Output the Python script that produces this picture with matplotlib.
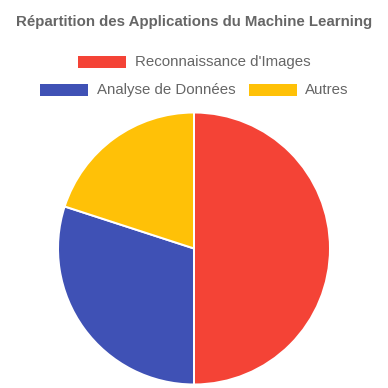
import matplotlib
matplotlib.use("Agg")
import matplotlib.pyplot as plt
from matplotlib.patches import Rectangle

categories = ["Reconnaissance d'Images", "Analyse de Données", "Autres"]
values = [50, 30, 20]
colors = ["#F44336", "#3F51B5", "#FFC107"]
title = "Répartition des Applications du Machine Learning"

W = H = 388
DPI = 100
plt.rcParams['font.family'] = ['Liberation Sans', 'DejaVu Sans']
fig = plt.figure(figsize=(W / DPI, H / DPI), dpi=DPI)
fig.patch.set_facecolor("white")

def fx(x):
    return x / W

def fy(y):
    return 1 - y / H

def pt(px):
    return px * 72 / DPI

# Pie
cx, cy, r = 194, 248.5, 136
ax = fig.add_axes([fx(cx - r), fy(cy + r), 2 * r / W, 2 * r / H])
ax.pie(values, colors=colors, startangle=90, counterclock=False, radius=1,
       wedgeprops=dict(edgecolor="white", linewidth=pt(2)))
ax.set_xlim(-1, 1)
ax.set_ylim(-1, 1)
ax.set_aspect("equal")
ax.axis("off")

# Title
fig.text(fx(194), fy(22), title, ha="center", va="center",
         fontsize=pt(15), fontweight="bold", color="#666666")

# Legend (manual, chart.js style)
legend_items = [
    (0, 78, 62, 135),
    (1, 40, 90, 97),
    (2, 249, 90, 305),
]
for idx, bx, by, tx in legend_items:
    rect = Rectangle((fx(bx), fy(by + 6)), 48 / W, 12 / H, transform=fig.transFigure,
                     facecolor=colors[idx], edgecolor="white", linewidth=0)
    fig.patches.append(rect)
    fig.text(fx(tx), fy(by), categories[idx], ha="left", va="center",
             fontsize=pt(15), color="#666666")

fig.savefig("out.png", dpi=DPI)
